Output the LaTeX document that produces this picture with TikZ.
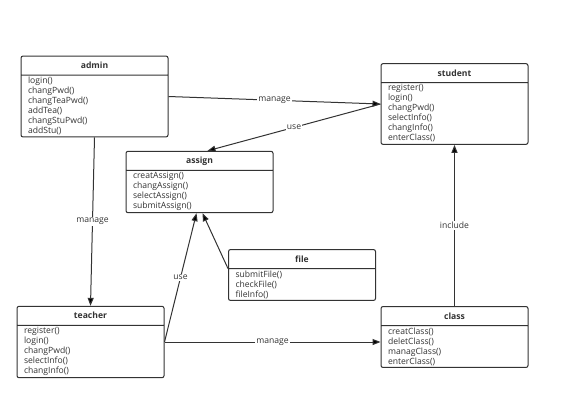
\documentclass[tikz,border=0pt]{standalone}
\usepackage{fontspec}
\setmainfont{Open Sans}
\usetikzlibrary{shapes.multipart}
\usetikzlibrary{arrows.meta}
\usetikzlibrary{positioning}

\definecolor{linegray}{HTML}{333333}

\newcommand\clsname[1]{\hspace*{\fill}\rule[-4.5pt]{0pt}{15pt}\textbf{#1}\hspace*{\fill}}

\tikzset{
  cls/.style={rectangle split, rectangle split parts=2, draw=linegray,
    line width=1pt, rounded corners=2pt, fill=white, text=linegray,
    text width=133pt, inner xsep=7pt, inner ysep=1.5pt,
    font=\fontsize{8.6}{10}\selectfont},
  rel/.style={draw=linegray, line width=1pt,
    -{Triangle[length=8pt,width=6pt]}},
  lbl/.style={fill=white, inner sep=1pt, text=linegray,
    font=\fontsize{8.6}{10}\selectfont},
}

\begin{document}
\begin{tikzpicture}[x=1pt,y=-1pt]
  \useasboundingbox (0,0) rectangle (568,416);

  \node[cls] (admin) at (94.5,96.5) {\clsname{admin}
    \nodepart{second}\raggedright login()\\ changPwd()\\ changTeaPwd()\\ addTea()\\ changStuPwd()\\ addStu()};
  \node[cls] (student) at (454.5,104) {\clsname{student}
    \nodepart{second}\raggedright register()\\ login()\\ changPwd()\\ selectInfo()\\ changInfo()\\ enterClass()};
  \node[cls] (assign) at (199.5,182) {\clsname{assign}
    \nodepart{second}\raggedright creatAssign()\\ changAssign()\\ selectAssign()\\ submitAssign()};
  \node[cls] (file) at (302,275) {\clsname{file}
    \nodepart{second}\raggedright submitFile()\\ checkFile()\\ fileInfo()};
  \node[cls] (teacher) at (90.5,342) {\clsname{teacher}
    \nodepart{second}\raggedright register()\\ login()\\ changPwd()\\ selectInfo()\\ changInfo()};
  \node[cls] (class) at (454.5,337) {\clsname{class}
    \nodepart{second}\raggedright creatClass()\\ deletClass()\\ managClass()\\ enterClass()};

  % relations
  \draw[rel] (admin.east) -- node[lbl] {manage} (student.west);
  \draw[rel] (student.west) -- node[lbl] {use} ([xshift=8pt]assign.north);
  \draw[rel] (admin.south) -- node[lbl] {manage} (teacher.north);
  \draw[rel] (teacher.east) -- node[lbl] {use} ([xshift=-3pt]assign.south);
  \draw[rel] (file.text split west) -- ([xshift=3pt]assign.south);
  \draw[rel] (teacher.east) -- node[lbl] {manage} (teacher.east -| class.west);
  \draw[rel] (class.north) -- node[lbl] {include} (student.south);
\end{tikzpicture}
\end{document}
